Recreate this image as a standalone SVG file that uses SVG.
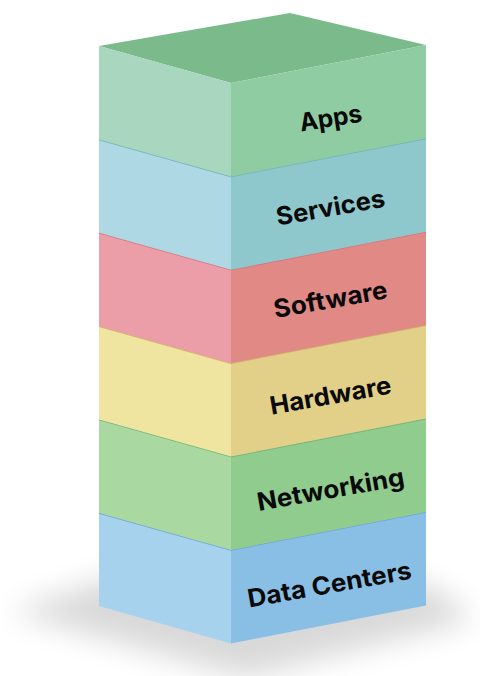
<svg xmlns="http://www.w3.org/2000/svg" width="480" height="676" viewBox="0 0 480 676">
<defs>
<filter id="blur" x="-30%" y="-30%" width="160%" height="160%"><feGaussianBlur stdDeviation="15"/></filter>
<style>
.lbl{font-family:Inter,"Liberation Sans",sans-serif;font-weight:700;font-size:25px;fill:#0a0a0a;text-anchor:middle}
.edge{fill:none;stroke-width:1.6;stroke-linejoin:round}
</style>
</defs>
<rect width="480" height="676" fill="#ffffff"/>
<g id="shadow">
<polygon points="10,612 110,578 430,584 474,620 245,678" fill="#000" opacity="0.15" filter="url(#blur)"/>
</g>
<g id="data-centers">
<polygon points="99,513 231,550 231,643.4 99,606" fill="#a6d2ee"/>
<polygon points="231,550 426,512 426,605.5 231,643.4" fill="#8abfe5"/>
<polyline class="edge" points="99,513 231,550 426,512" stroke="#6ea6d8"/>
<text class="lbl" transform="translate(331,593) rotate(-10)" textLength="166" lengthAdjust="spacingAndGlyphs">Data Centers</text>
</g>
<g id="networking">
<polygon points="99,419.6 231,456.6 231,550 99,513" fill="#aad8a1"/>
<polygon points="231,456.6 426,418.6 426,512 231,550" fill="#91cc8f"/>
<polyline class="edge" points="99,419.6 231,456.6 426,418.6" stroke="#72b77a"/>
<text class="lbl" transform="translate(332,498) rotate(-10)" textLength="149" lengthAdjust="spacingAndGlyphs">Networking</text>
</g>
<g id="hardware">
<polygon points="99,326.2 231,363.2 231,456.6 99,419.6" fill="#f0e4a1"/>
<polygon points="231,363.2 426,325.2 426,418.6 231,456.6" fill="#e2d088"/>
<polyline class="edge" points="99,326.2 231,363.2 426,325.2" stroke="#cdb96a"/>
<text class="lbl" transform="translate(332,404) rotate(-10)" textLength="123" lengthAdjust="spacingAndGlyphs">Hardware</text>
</g>
<g id="software">
<polygon points="99,232.8 231,269.8 231,363.2 99,326.2" fill="#eb9ea8"/>
<polygon points="231,269.8 426,231.8 426,325.2 231,363.2" fill="#e08985"/>
<polyline class="edge" points="99,232.8 231,269.8 426,231.8" stroke="#d8767a"/>
<text class="lbl" transform="translate(332,308) rotate(-10)" textLength="115" lengthAdjust="spacingAndGlyphs">Software</text>
</g>
<g id="services">
<polygon points="99,139.4 231,176.4 231,269.8 99,232.8" fill="#add8e4"/>
<polygon points="231,176.4 426,138.4 426,231.8 231,269.8" fill="#8fc8cc"/>
<polyline class="edge" points="99,139.4 231,176.4 426,138.4" stroke="#70b3bd"/>
<text class="lbl" transform="translate(332,216) rotate(-10)" textLength="110" lengthAdjust="spacingAndGlyphs">Services</text>
</g>
<g id="apps">
<polygon points="99,46 290,13 426,45 231,83" fill="#7bba8b"/>
<polygon points="99,46 231,83 231,176.4 99,139.4" fill="#a9d6be"/>
<polygon points="231,83 426,45 426,138.4 231,176.4" fill="#8fcca2"/>
<text class="lbl" transform="translate(332,126.5) rotate(-9)" textLength="63" lengthAdjust="spacingAndGlyphs">Apps</text>
</g>
<g id="connectors"/>
</svg>
